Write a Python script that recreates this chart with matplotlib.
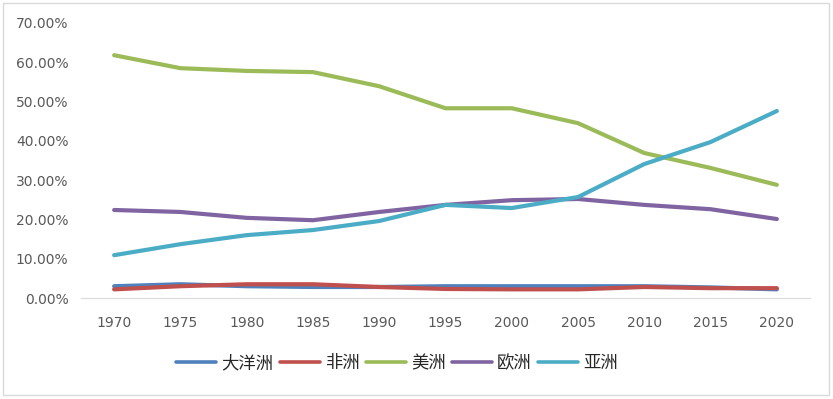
import matplotlib.pyplot as plt
from matplotlib.ticker import PercentFormatter
import numpy as np

plt.rcParams['font.family'] = ['Noto Sans CJK SC', 'DejaVu Sans']

# data (share in %)
years = ['1970', '1975', '1980', '1985', '1990', '1995', '2000', '2005', '2010', '2015', '2020']
oceania = [3.0, 3.5, 3.0, 2.8, 2.8, 3.0, 3.0, 3.0, 3.0, 2.7, 2.2]
africa = [2.2, 3.0, 3.5, 3.5, 2.8, 2.3, 2.2, 2.2, 2.8, 2.5, 2.5]
america = [61.8, 58.5, 57.8, 57.5, 53.9, 48.3, 48.3, 44.5, 36.9, 33.1, 28.8]
europe = [22.4, 21.9, 20.4, 19.8, 21.9, 23.7, 24.9, 25.2, 23.7, 22.6, 20.1]
asia = [10.9, 13.7, 16.0, 17.3, 19.6, 23.7, 22.9, 25.7, 34.1, 39.7, 47.6]

series = [('大洋洲', oceania, '#4F81BD'),
          ('非洲', africa, '#C0504D'),
          ('美洲', america, '#9BBB59'),
          ('欧洲', europe, '#8064A2'),
          ('亚洲', asia, '#4BACC6')]

fig = plt.figure(figsize=(8.33, 3.99), dpi=100)
ax = fig.add_axes([81 / 833, 1 - 298 / 399, (810 - 81) / 833, (298 - 23) / 399])

x = np.arange(len(years))
for name, vals, c in series:
    ax.plot(x, vals, color=c, lw=3.0, label=name, solid_capstyle='round')

ax.set_xlim(-0.5, len(years) - 0.5)
ax.set_ylim(0, 70)
ax.set_yticks(np.arange(0, 71, 10))
ax.yaxis.set_major_formatter(PercentFormatter(decimals=2))
ax.set_xticks(x)
ax.set_xticklabels(years)
ax.tick_params(axis='both', length=0, labelsize=10, colors='#595959')
for lbl in ax.get_xticklabels() + ax.get_yticklabels():
    lbl.set_family('DejaVu Sans')
ax.tick_params(axis='x', pad=13)
ax.tick_params(axis='y', pad=9)

for s in ['top', 'right', 'left']:
    ax.spines[s].set_visible(False)
ax.spines['bottom'].set_color('#D9D9D9')

leg = fig.legend(loc='center', bbox_to_anchor=(397 / 833, 1 - 363 / 399), ncol=5,
                 frameon=False, fontsize=12.5, handlelength=2.3, handletextpad=0.3,
                 columnspacing=0.35)
for t in leg.get_texts():
    t.set_color('#262626')
for h in leg.get_lines():
    h.set_linewidth(2.6)

# outer chart border
fig.patches.append(plt.Rectangle((3 / 833, 4 / 399), 826 / 833, 392 / 399,
                                 transform=fig.transFigure, fill=False,
                                 edgecolor='#D9D9D9', lw=1))

plt.savefig('out.png', dpi=100)
